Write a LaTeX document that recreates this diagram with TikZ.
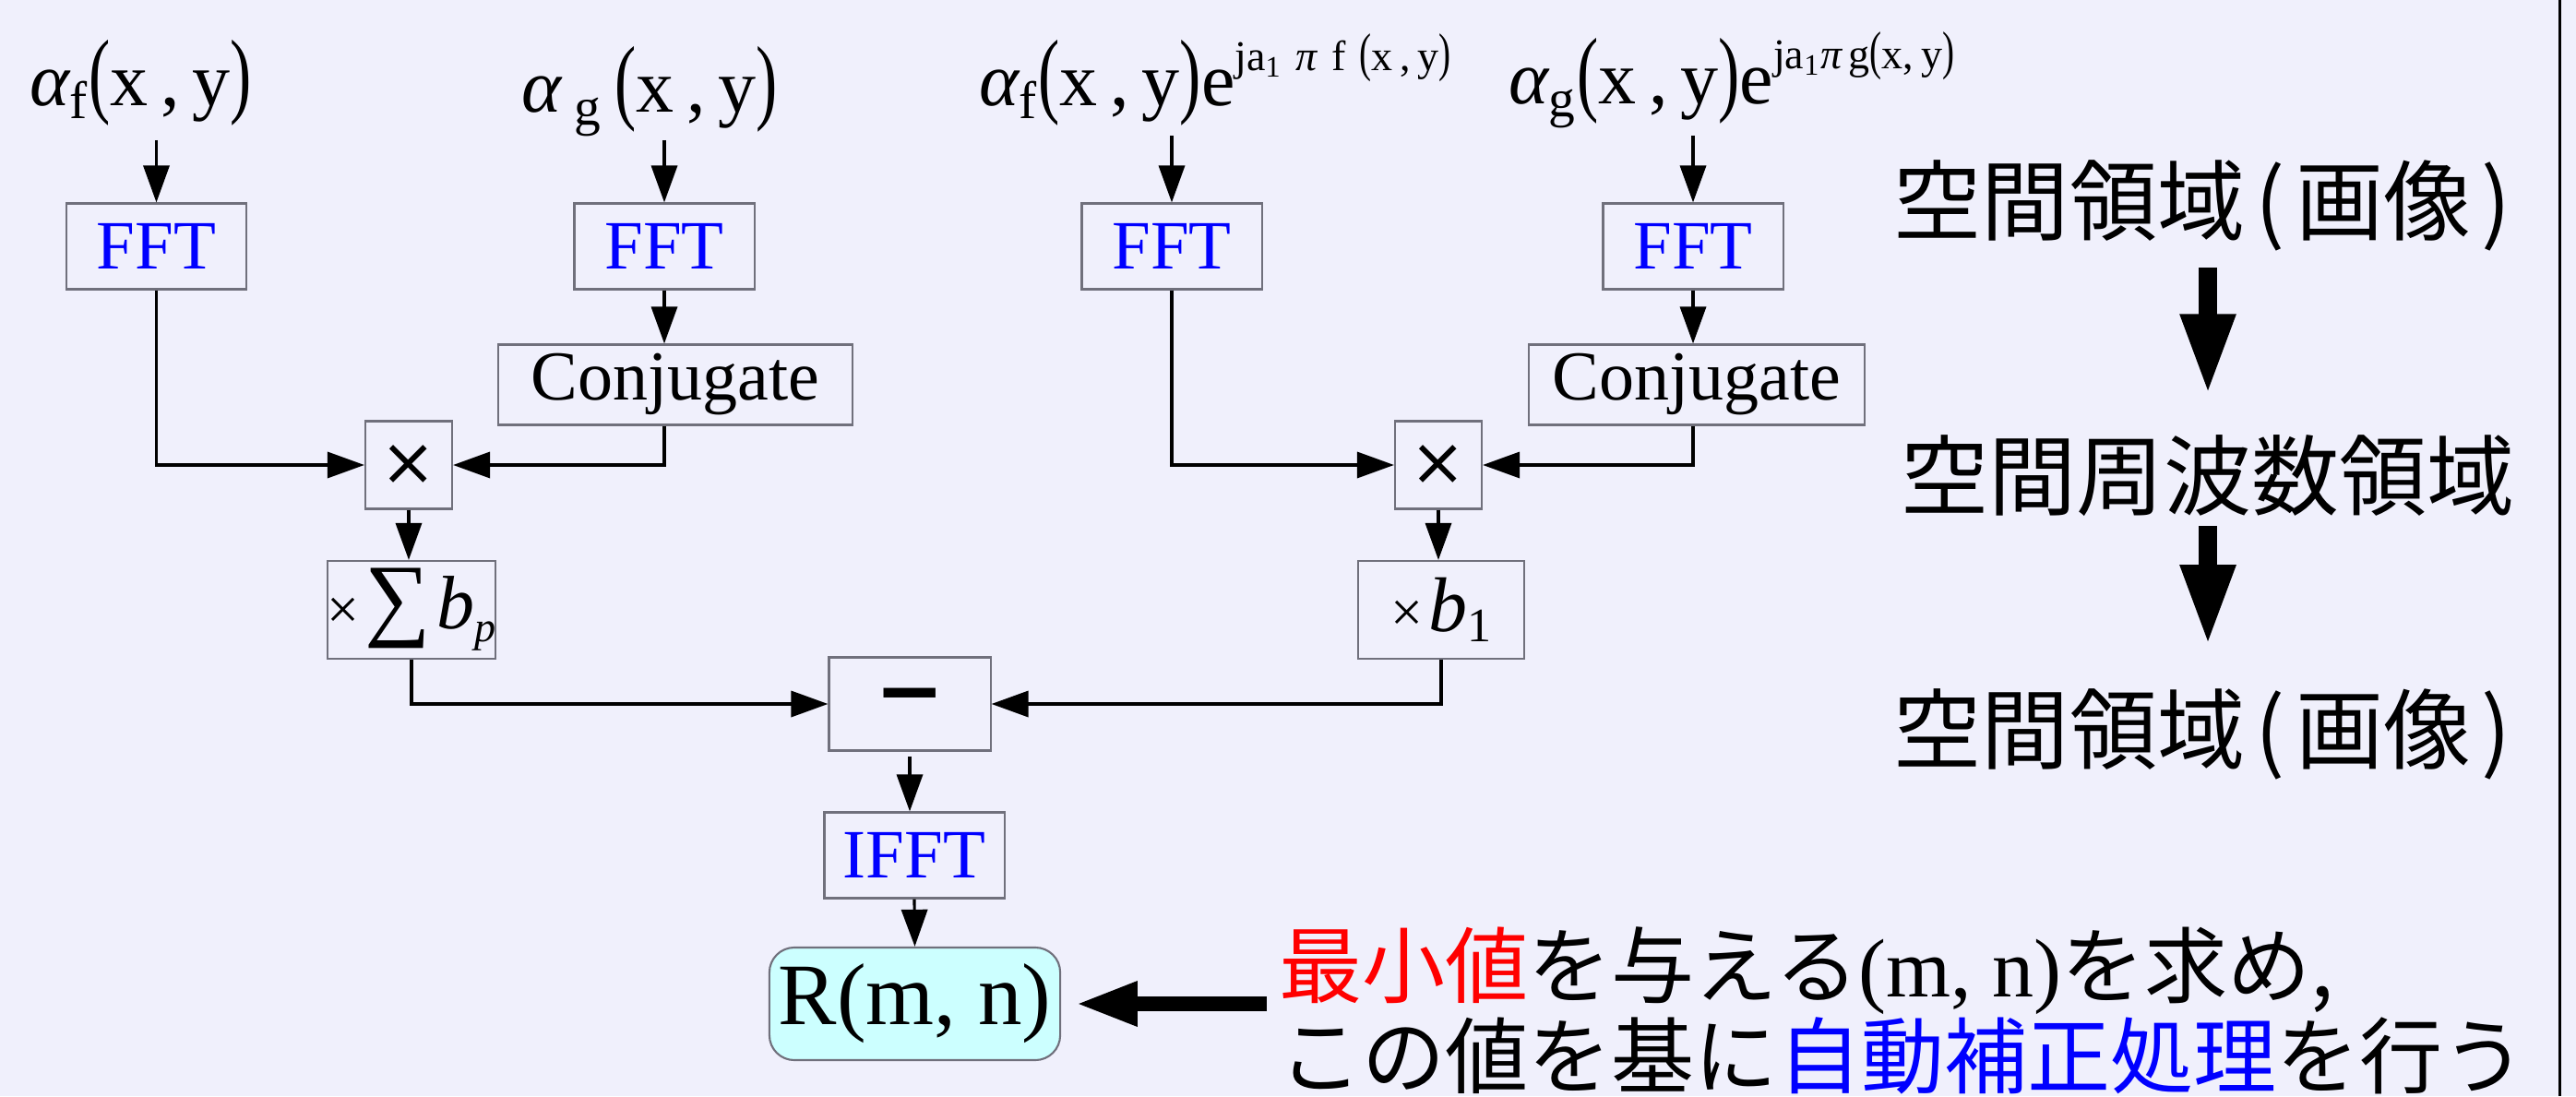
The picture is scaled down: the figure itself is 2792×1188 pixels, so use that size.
\documentclass[tikz,border=0pt]{standalone}
\usepackage{fontspec}
\setmainfont{Liberation Serif}
\newfontfamily\jp{Noto Sans CJK JP}
\newfontfamily\djv{DejaVu Sans}
\usetikzlibrary{arrows.meta,calc}

% font size given in drawing units (1 unit = 0.01cm)
\newcommand\pxs[1]{\fontsize{\fpeval{#1*0.28453}pt}{\fpeval{#1*0.34}pt}\selectfont}
% tall, slim parentheses of the formulas
\newcommand\tp[1]{\scalebox{0.85}[1.25]{#1}}
% parentheses of the domain captions, with some air around them
\newcommand\jpar[1]{\kern0.12em#1\kern0.12em}

\definecolor{bg}{RGB}{240,240,252}
\definecolor{frame}{RGB}{112,112,124}
\definecolor{cyanfill}{RGB}{204,255,255}

\begin{document}
\begin{tikzpicture}[x=0.01cm,y=-0.01cm,
  box/.style={draw=frame, line width=0.6pt, inner sep=0pt, align=center},
  fftbox/.style={box, minimum width=1.95cm, minimum height=0.93cm, text=blue, font=\pxs{75}},
  conjbox/.style={box, minimum height=0.87cm, font=\pxs{76}},
  opbox/.style={box, minimum width=0.94cm, minimum height=0.95cm, font=\djv\pxs{72}},
  gainbox/.style={box, minimum width=1.80cm, minimum height=1.06cm},
  lbl/.style={inner sep=0pt, anchor=base west, font=\pxs{82}},
  dom/.style={inner sep=0pt, font=\jp\pxs{95}},
  note/.style={inner sep=0pt, anchor=base west, font=\jp\pxs{90}},
  arr/.style={-{Triangle[length=11.4pt,width=8pt]}, line width=0.9pt},
  fatarr/.style={-{Triangle[length=25pt,width=15.6pt]}, line width=5.7pt},
  bigarr/.style={-{Triangle[length=19pt,width=12.8pt]}, line width=4.3pt}]

\fill[bg] (0,0) rectangle (2792,1188);
\useasboundingbox (0,0) rectangle (2792,1188);
\draw[line width=0.85pt] (2774,0) -- (2774,1188);

% input signals
\node[lbl] (inF) at (32,115) {{\itshape α}\textsubscript{f}\tp{(}x\,,\,y\tp{)}};
\node[lbl] (inG) at (565,122) {{\itshape α}\,\textsubscript{g}\,\tp{(}x\,,\,y\tp{)}};
\node[lbl] (inFe) at (1061,115) {{\itshape α}\textsubscript{f}\tp{(}x\,,\,y\tp{)}e\raisebox{0.47em}{\pxs{46}ja\textsubscript{1}\,\,{\itshape π}\,\,f\,\,\tp{(}x\,,\,y\tp{)}}};
\node[lbl] (inGe) at (1635,113) {{\itshape α}\textsubscript{g}\tp{(}x\,,\,y\tp{)}e\raisebox{0.47em}{\pxs{46}ja\textsubscript{1}{\itshape π}\,g\tp{(}x,\,y\tp{)}}};

% transforms
\node[fftbox] (fft1) at (169.5,267) {FFT};
\node[fftbox] (fft2) at (720,267) {FFT};
\node[fftbox] (fft3) at (1270,267) {FFT};
\node[fftbox] (fft4) at (1835,267) {FFT};

\node[conjbox, minimum width=3.83cm] (conj1) at (732,417) {Conjugate};
\node[conjbox, minimum width=3.64cm] (conj2) at (1839,417) {Conjugate};

\node[opbox] (mul1) at (443,504) {×};
\node[opbox] (mul2) at (1559,504) {×};

\node[gainbox] (sum1) at (446,661) {{\pxs{62}×}\,{\pxs{100}∑}\,{\pxs{82}\itshape b}\raisebox{-0.4em}{\pxs{46}\itshape p}};
\node[gainbox] (sumb1) at (1562,661) {{\pxs{62}×}\,{\pxs{84}\itshape b}\raisebox{-0.3em}{\pxs{52}1}};

\node[box, minimum width=1.75cm, minimum height=1.01cm, font=\djv\bfseries\pxs{90}] (minus) at (986,763) {−};
\node[fftbox] (ifft) at (991,927) {IFFT};
\node[box, minimum width=3.15cm, minimum height=1.22cm, rounded corners=0.27cm, fill=cyanfill, font=\pxs{95}] (rbox) at (991.5,1088) {R(m, n)};

% domain captions
\node[dom] (dom1) at (2393,223) {空間領域\jpar{(}画像\jpar{)}};
\node[dom] (dom2) at (2393,516) {空間周波数領域};
\node[dom] (dom3) at (2393,796) {空間領域\jpar{(}画像\jpar{)}};
\draw[fatarr, shorten <=0.17cm, shorten >=0.43cm] (dom1.south) -- (dom2.north);
\draw[fatarr, shorten <=0.09cm, shorten >=0.46cm] (dom2.south) -- (dom3.north);

% note
\node[note] (note1) at (1386,1080) {\textcolor{red}{最小値}を与える{\rmfamily (m, n)}を求め,};
\node[note] (note2) at (1386,1178) {この値を基に\textcolor{blue}{自動補正処理}を行う};
\draw[bigarr, shorten <=0.13cm, shorten >=0.16cm] (note1.west |- rbox.east) -- (rbox.east);

% signal flow
\draw[arr] ($(inF.base -| fft1.north)+(0,37)$) -- (fft1.north);
\draw[arr] ($(inG.base -| fft2.north)+(0,30)$) -- (fft2.north);
\draw[arr] ($(inFe.base -| fft3.north)+(0,32)$) -- (fft3.north);
\draw[arr] ($(inGe.base -| fft4.north)+(0,34)$) -- (fft4.north);

\draw[arr] (fft2.south) -- (fft2.south |- conj1.north);
\draw[arr] (fft4.south) -- (fft4.south |- conj2.north);

\draw[arr] (fft1.south) |- (mul1.west);
\draw[arr] (conj1.south -| fft2.south) |- (mul1.east);
\draw[arr] (fft3.south) |- (mul2.west);
\draw[arr] (conj2.south -| fft4.south) |- (mul2.east);

\draw[arr] (mul1.south) -- (mul1.south |- sum1.north);
\draw[arr] (mul2.south) -- (mul2.south |- sumb1.north);

\draw[arr] (sum1.south) |- (minus.west);
\draw[arr] (sumb1.south) |- (minus.east);

\draw[arr, shorten <=0.05cm] (minus.south) -- (minus.south |- ifft.north);
\draw[arr] (ifft.south) -- (rbox.north);
\end{tikzpicture}
\end{document}
